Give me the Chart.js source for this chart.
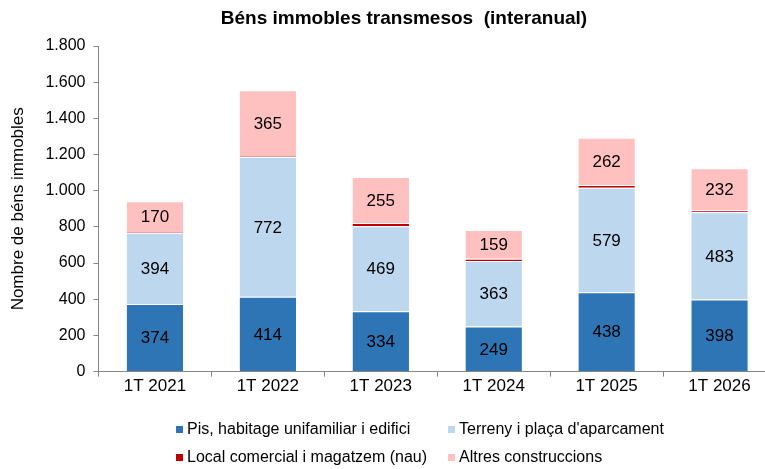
<!DOCTYPE html>
<html>
<head>
<meta charset="utf-8">
<script src="https://cdn.jsdelivr.net/npm/chart.js@4.4.1/dist/chart.umd.min.js"></script>
<style>
  html, body { margin: 0; padding: 0; background: #fff; overflow: hidden; }
  #wrap { position: relative; width: 808px; height: 469px; font-family: "Liberation Sans", Arial, sans-serif; }
  .titol { position: absolute; left: 0; width: 808px; top: 7px; text-align: center; font-size: 19px; font-weight: bold; color: #000; white-space: pre; }
  .llegenda { position: absolute; left: 176px; top: 420px; font-size: 16px; color: #000; display: grid; grid-template-columns: 272px 300px; row-gap: 10px; }
  .llegenda span { display: inline-block; width: 7px; height: 7px; margin-right: 4px; vertical-align: 1px; }
</style>
</head>
<body>
<div id="wrap">
  <canvas id="grafic" width="808" height="469"></canvas>
  <div class="titol" id="titol"></div>
  <div class="llegenda" id="llegenda"></div>
</div>
<script>
// Dades del gràfic
const trimestres = ["1T 2021", "1T 2022", "1T 2023", "1T 2024", "1T 2025", "1T 2026"];
const pisos = [374, 414, 334, 249, 438, 398];
const terrenys = [394, 772, 469, 363, 579, 483];
const locals = [4, 5, 18, 12, 14, 11];
const altres = [170, 365, 255, 159, 262, 232];

const nomsSeries = ["Pis, habitage unifamiliar i edifici", "Terreny i plaça d'aparcament", "Local comercial i magatzem (nau)", "Altres construccions"];
const colors = ["#2E75B6", "#BDD7EE", "#C00000", "#FFC0C0"];
const font = "'Liberation Sans', Arial, sans-serif";

// Títol
document.getElementById("titol").textContent = "Béns immobles transmesos  (interanual)";

// Etiquetes dins les barres (sense plugin extern)
const etiquetes = {
  id: "etiquetes",
  afterDatasetsDraw(chart) {
    const ctx = chart.ctx;
    ctx.save();
    ctx.font = "17px " + font;
    ctx.fillStyle = "#000";
    ctx.textAlign = "center";
    ctx.textBaseline = "middle";
    chart.data.datasets.forEach((ds, i) => {
      if (!ds.ambEtiqueta) return;
      chart.getDatasetMeta(i).data.forEach((barra, j) => {
        const y = (barra.y + barra.base) / 2;
        ctx.fillText(ds.data[j], barra.x, y + 1);
      });
    });
    ctx.restore();
  }
};

const dades = [pisos, terrenys, locals, altres];

new Chart(document.getElementById("grafic"), {
  type: "bar",
  data: {
    labels: trimestres,
    datasets: dades.map((d, i) => ({
      label: nomsSeries[i],
      data: d,
      backgroundColor: colors[i],
      borderColor: "#fff",
      borderWidth: { top: 1 },
      borderSkipped: false,
      barPercentage: 0.5,
      categoryPercentage: 1,
      ambEtiqueta: i !== 2
    }))
  },
  options: {
    responsive: false,
    animation: false,
    layout: { padding: { left: 4, right: 32, top: 46, bottom: 72 } },
    plugins: {
      legend: { display: false },
      tooltip: { enabled: false },
      title: { display: false }
    },
    scales: {
      x: {
        stacked: true,
        grid: { offset: true, drawOnChartArea: false, color: "#868686", tickLength: 5 },
        border: { color: "#868686" },
        ticks: { color: "#000", font: { family: font, size: 17 }, padding: 0 }
      },
      y: {
        stacked: true,
        min: 0,
        max: 1800,
        ticks: {
          stepSize: 200,
          color: "#000",
          font: { family: font, size: 16 },
          padding: 8,
          callback: v => v.toString().replace(/\B(?=(\d{3})+(?!\d))/g, ".")
        },
        grid: { drawOnChartArea: false, color: "#868686", tickLength: 5 },
        border: { color: "#868686" },
        title: {
          display: true,
          text: "Nombre de béns immobles",
          color: "#000",
          font: { family: font, size: 17 },
          padding: { bottom: 9 }
        }
      }
    }
  },
  plugins: [etiquetes]
});

// Llegenda en dues columnes
const llegenda = document.getElementById("llegenda");
[0, 1, 2, 3].forEach(i => {
  const el = document.createElement("div");
  el.innerHTML = `<span style="background:${colors[i]}"></span>${nomsSeries[i]}`;
  llegenda.appendChild(el);
});
</script>
</body>
</html>
